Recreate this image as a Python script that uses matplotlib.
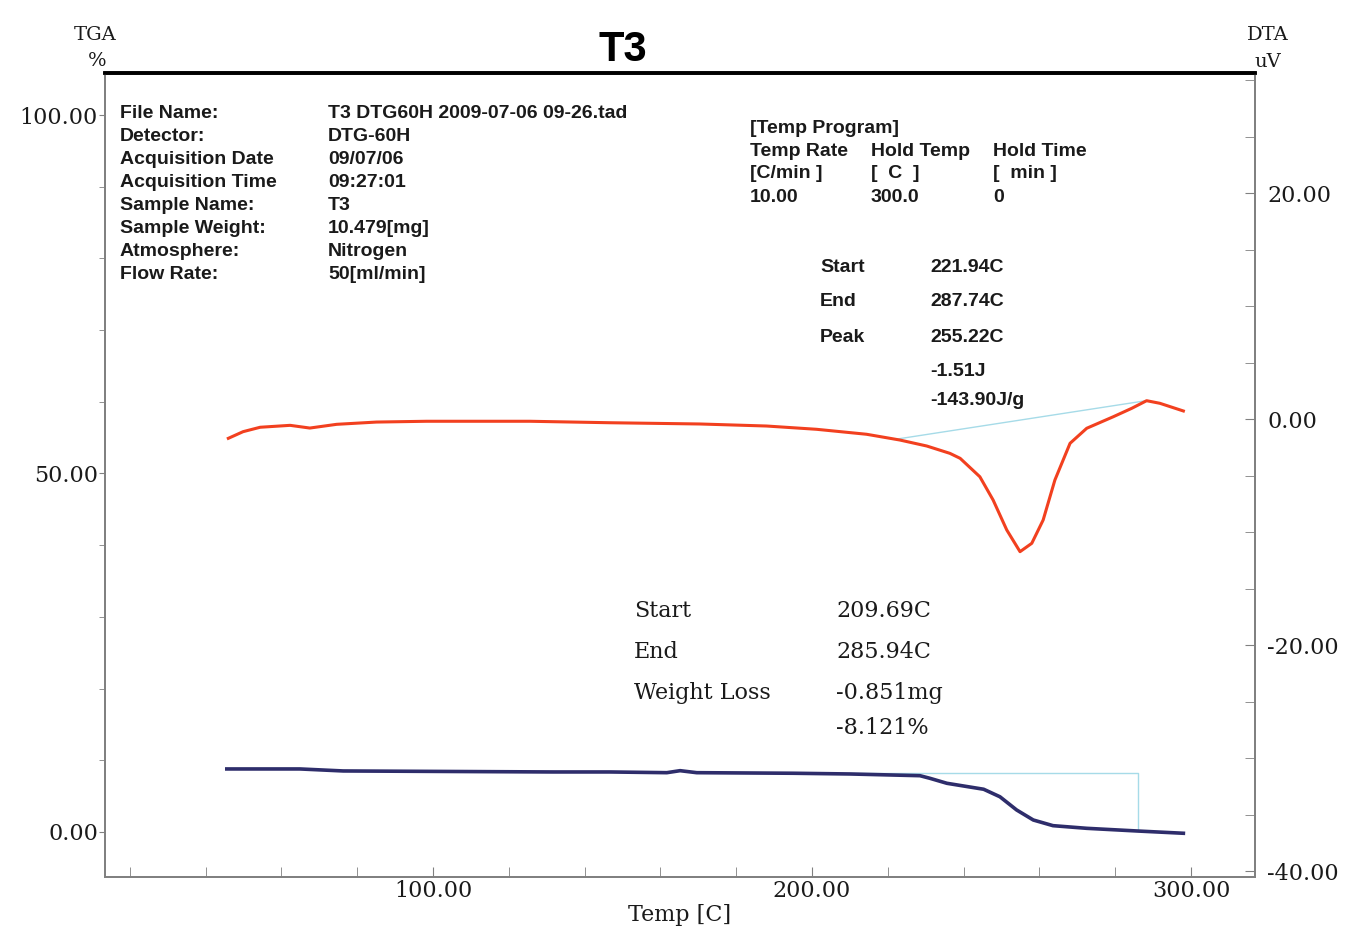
import matplotlib
matplotlib.use("Agg")
import matplotlib.pyplot as plt
import numpy as np

# DTA trace (uV) vs temperature (C)
dta_temp = [46.0, 49.9, 54.4, 62.3, 67.5, 74.6, 85.1, 98.3, 125.6, 146.7, 170.4,
            188.0, 201.2, 214.4, 223.2, 230.3, 236.4, 239.1, 244.3, 247.8, 251.4,
            254.9, 258.0, 261.0, 264.1, 268.1, 272.5, 279.5, 284.4, 288.3, 291.8, 298.0]
dta_uv = [-1.71, -1.12, -0.73, -0.56, -0.80, -0.47, -0.27, -0.20, -0.20, -0.33, -0.44,
          -0.62, -0.91, -1.35, -1.86, -2.39, -3.04, -3.48, -5.11, -7.17, -9.82,
          -11.74, -11.00, -8.94, -5.40, -2.15, -0.82, 0.20, 0.95, 1.62, 1.39, 0.71]

# TGA trace (%) vs temperature (C)
tga_temp = [45.6, 64.9, 76.3, 131.7, 146.7, 161.7, 165.2, 169.6, 195.1, 210.0, 228.5,
            231.1, 235.6, 245.3, 249.6, 254.0, 258.4, 263.6, 272.5, 285.7, 298.0]
tga_pct = [8.79, 8.79, 8.51, 8.37, 8.37, 8.27, 8.55, 8.27, 8.19, 8.09, 7.85,
           7.49, 6.79, 5.96, 4.91, 3.07, 1.67, 0.88, 0.51, 0.14, -0.18]

# analysis baselines
dta_base_temp = [221.94, 287.74]
dta_base_uv = [-1.80, 1.60]
tga_base_temp = [209.69, 285.94, 285.94]
tga_base_pct = [8.19, 8.19, 0.14]

info_keys = ["File Name:", "Detector:", "Acquisition Date", "Acquisition Time",
             "Sample Name:", "Sample Weight:", "Atmosphere:", "Flow Rate:"]
info_vals = ["T3 DTG60H 2009-07-06 09-26.tad", "DTG-60H", "09/07/06", "09:27:01",
             "T3", "10.479[mg]", "Nitrogen", "50[ml/min]"]

W, H = 1354, 930


def fx(x):
    return x / W


def fy(y):
    return 1 - y / H


fig = plt.figure(figsize=(W / 100, H / 100), dpi=100)
ax = fig.add_axes([fx(105), fy(877), fx(1255) - fx(105), fy(73) - fy(877)])
ax2 = ax.twinx()

serif = "DejaVu Serif"
sans = "Liberation Sans"
grey = "#808080"
ink = "#1a1a1a"

ax.set_xlim(13.46, 316.9)
ax.set_ylim(-6.28, 105.86)
ax2.set_ylim(-40.53, 30.62)

ax.plot(tga_temp, tga_pct, color="#2e2d6b", lw=2.6, solid_joinstyle="round", zorder=3)
ax.plot(tga_base_temp, tga_base_pct, color="#a6dbe8", lw=1.0, zorder=2)
ax2.plot(dta_temp, dta_uv, color="#f2401f", lw=2.2, solid_joinstyle="round", zorder=3)
ax2.plot(dta_base_temp, dta_base_uv, color="#a6dbe8", lw=1.0, zorder=2)

for a in (ax, ax2):
    for s in ("left", "right", "bottom"):
        a.spines[s].set_color(grey)
        a.spines[s].set_linewidth(1.3)
    a.spines["top"].set_color("black")
    a.spines["top"].set_linewidth(2.6)

ax.set_xticks([100, 200, 300])
ax.set_xticklabels(["100.00", "200.00", "300.00"])
ax.set_xticks(np.arange(20, 301, 20), minor=True)
ax.tick_params(axis="x", which="both", direction="in", length=7, color=grey,
               labelsize=16, pad=2, labelcolor=ink)
ax.set_yticks([0, 50, 100])
ax.set_yticklabels(["0.00", "50.00", "100.00"])
ax.set_yticks(np.arange(0, 101, 10), minor=True)
ax.tick_params(axis="y", which="both", direction="out", length=4, color=grey,
               labelsize=16, pad=1, labelcolor=ink)
ax2.set_yticks([-40, -20, 0, 20])
ax2.set_yticklabels(["-40.00", "-20.00", "0.00", "20.00"])
ax2.set_yticks(np.arange(-40, 31, 5), minor=True)
ax2.tick_params(axis="y", which="both", direction="in", length=7, color=grey,
                labelsize=16, pad=9, labelcolor=ink)
for lab in ax.get_xticklabels() + ax.get_yticklabels() + ax2.get_yticklabels():
    lab.set_fontfamily(serif)

# headers
fig.text(fx(623), fy(50), "T3", fontsize=30, family=sans, weight="bold",
         ha="center", va="center")
fig.text(fx(95), fy(35), "TGA", fontsize=14, family=serif, ha="center", va="center", color=ink)
fig.text(fx(97), fy(61), "%", fontsize=14, family=serif, ha="center", va="center", color=ink)
fig.text(fx(1268), fy(35), "DTA", fontsize=14, family=serif, ha="center", va="center", color=ink)
fig.text(fx(1268), fy(62), "uV", fontsize=14, family=serif, ha="center", va="center", color=ink)
fig.text(fx(680), fy(915), "Temp [C]", fontsize=16, family=serif, ha="center", va="center",
         color=ink)

# sample information block
for i, (k, v) in enumerate(zip(info_keys, info_vals)):
    y = 113 + i * 23.1
    fig.text(fx(120), fy(y), k, fontsize=14, family=sans, weight="bold", va="center", color=ink)
    fig.text(fx(328), fy(y), v, fontsize=14, family=sans, weight="bold", va="center", color=ink)

# temperature program
fig.text(fx(750), fy(128), "[Temp Program]", fontsize=14, family=sans, weight="bold",
         va="center", color=ink)
prog_rows = [["Temp Rate", "Hold Temp", "Hold Time"],
             ["[C/min ]", "[  C  ]", "[  min ]"],
             ["10.00", "300.0", "0"]]
for r, row in enumerate(prog_rows):
    for c, txt in enumerate(row):
        fig.text(fx([750, 871, 993][c]), fy(151 + r * 23), txt, fontsize=14,
                 family=sans, weight="bold", va="center", color=ink)

# DTA peak results
dta_res = [("Start", "221.94C", 268), ("End", "287.74C", 302), ("Peak", "255.22C", 337),
           ("", "-1.51J", 371), ("", "-143.90J/g", 400)]
for k, v, y in dta_res:
    if k:
        fig.text(fx(820), fy(y), k, fontsize=14, family=sans, weight="bold", va="center",
                 color=ink)
    fig.text(fx(930), fy(y), v, fontsize=14, family=sans, weight="bold", va="center", color=ink)

# TGA results
tga_res = [("Start", "209.69C", 611), ("End", "285.94C", 652),
           ("Weight Loss", "-0.851mg", 693), ("", "-8.121%", 728)]
for k, v, y in tga_res:
    if k:
        fig.text(fx(634), fy(y), k, fontsize=16, family=serif, va="center", color=ink)
    fig.text(fx(836), fy(y), v, fontsize=16, family=serif, va="center", color=ink)

fig.savefig("out.png", dpi=100)
